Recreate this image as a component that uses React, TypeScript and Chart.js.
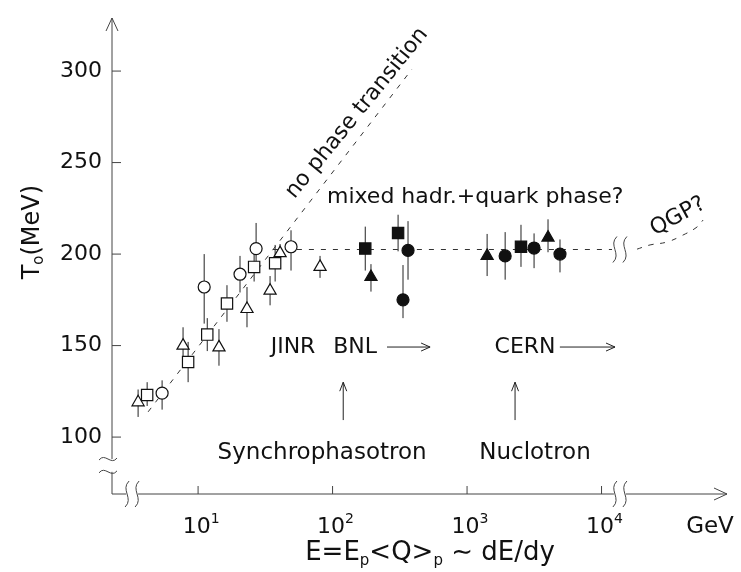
import React, { useEffect, useRef } from "react";
import { Chart, registerables } from "chart.js";

Chart.register(...registerables);

const FONT = '"DejaVu Sans", "Liberation Sans", sans-serif';

// ---- axes ----
const X_MIN = 2.29;
const X_MAX = 85700;
const Y_MIN = 68.9;
const Y_MAX = 329;
const Y_TICKS = [100, 150, 200, 250, 300];
const X_TICKS = [10, 100, 1000, 10000];
const X_TICK_EXP = ["1", "2", "3", "4"];

// ---- data (E in GeV, T0 in MeV) ----
const openTriE = [3.58, 7.73, 14.3, 23.1, 34.3, 40.7, 80.7];
const openTriT = [119, 150, 149, 170, 180, 200.5, 193];
const openTriUp = [7, 10, 10, 12, 8, 5, 6];
const openTriDn = [8, 12, 10, 10, 8, 4, 6];

const openSqE = [4.18, 8.43, 11.7, 16.4, 26.1, 37.4];
const openSqT = [123, 141, 156, 173, 193, 195];
const openSqUp = [7, 11, 9, 10, 8, 10];
const openSqDn = [6, 11, 9, 10, 8, 10];

const openCirE = [5.4, 11.1, 20.5, 27, 49.1];
const openCirT = [124, 182, 189, 203, 204];
const openCirUp = [7, 18, 10, 14, 9];
const openCirDn = [9, 20, 10, 10, 13];

const fullSqE = [175, 307, 2518];
const fullSqT = [203, 211.5, 204];
const fullSqUp = [12, 10, 12];
const fullSqDn = [12, 10, 11];

const fullTriE = [193, 1410, 4000];
const fullTriT = [187.5, 199, 209];
const fullTriUp = [7, 12, 10];
const fullTriDn = [8, 11, 8];

const fullCirE = [364, 334, 1920, 3150, 4910];
const fullCirT = [202, 175, 199, 203.3, 200];
const fullCirUp = [16, 19, 13, 8, 8];
const fullCirDn = [16, 10, 13, 11, 10];

// ---- guide lines ----
const noTransE = [4.25, 389];
const noTransT = [113.8, 301];
const mixedE = [36, 11970];
const mixedT = [202.5, 202.5];
const qgpE = [18370, 22960, 30700, 40360, 51300, 56900];
const qgpT = [202.7, 205, 206.6, 210.4, 214.8, 218.6];

// break positions (data coords)
const AXIS_BREAK_LEFT_E = 3.23;
const AXIS_BREAK_RIGHT_E = 13700;
const LINE_BREAK_T = 202.5;
const Y_BREAK_T = [88, 81];

function mk(xs: number[], ys: number[]) {
  return xs.map((x, i) => ({ x, y: ys[i] }));
}

function markerDs(label: string, xs: number[], ys: number[], up: number[], dn: number[], style: string, filled: boolean, r: number) {
  return {
    type: "scatter",
    label,
    data: mk(xs, ys),
    errUp: up,
    errDn: dn,
    pointStyle: style,
    pointRadius: r,
    pointHoverRadius: r,
    pointBackgroundColor: filled ? "#111" : "#fff",
    pointBorderColor: "#111",
    pointBorderWidth: 1.2,
    showLine: false,
  };
}

function lineDs(label: string, xs: number[], ys: number[], tension: number) {
  return {
    type: "line",
    label,
    data: mk(xs, ys),
    borderColor: "#333",
    borderWidth: 1,
    borderDash: [5, 7],
    pointRadius: 0,
    tension,
    fill: false,
  };
}

function drawSeq(ctx: CanvasRenderingContext2D, parts: { t: string; s: number; dy: number }[], cx: number, cy: number, rot: number) {
  ctx.save();
  ctx.translate(cx, cy);
  ctx.rotate(rot);
  let total = 0;
  const widths = parts.map((p) => {
    ctx.font = `${p.s}px ${FONT}`;
    const w = ctx.measureText(p.t).width;
    total += w;
    return w;
  });
  let x = -total / 2;
  ctx.textBaseline = "middle";
  ctx.textAlign = "left";
  parts.forEach((p, i) => {
    ctx.font = `${p.s}px ${FONT}`;
    ctx.fillText(p.t, x, p.dy);
    x += widths[i];
  });
  ctx.restore();
}

function text(ctx: CanvasRenderingContext2D, t: string, x: number, y: number, size: number, rot = 0, align: CanvasTextAlign = "center") {
  ctx.save();
  ctx.translate(x, y);
  ctx.rotate(rot);
  ctx.font = `${size}px ${FONT}`;
  ctx.textAlign = align;
  ctx.textBaseline = "middle";
  ctx.fillText(t, 0, 0);
  ctx.restore();
}

function vSquiggle(ctx: CanvasRenderingContext2D, cx: number, cy: number, h: number) {
  ctx.beginPath();
  ctx.moveTo(cx + 2, cy - h / 2);
  ctx.bezierCurveTo(cx - 7, cy - h / 6, cx + 7, cy + h / 6, cx - 2, cy + h / 2);
  ctx.stroke();
}

function hSquiggle(ctx: CanvasRenderingContext2D, cx: number, cy: number, w: number) {
  ctx.beginPath();
  ctx.moveTo(cx - w / 2, cy + 1);
  ctx.bezierCurveTo(cx - w / 6, cy - 7, cx + w / 6, cy + 7, cx + w / 2, cy - 1);
  ctx.stroke();
}

const overlay = {
  id: "overlay",
  beforeDatasetsDraw(chart: any) {
    const { ctx, chartArea } = chart;
    const xs = chart.scales.x;
    const ys = chart.scales.y;
    ctx.save();
    ctx.strokeStyle = "#444";
    ctx.lineWidth = 1;
    const x0 = chartArea.left;
    const yb = chartArea.bottom;
    // y axis with break
    const yb1 = ys.getPixelForValue(Y_BREAK_T[0]);
    const yb2 = ys.getPixelForValue(Y_BREAK_T[1]);
    ctx.beginPath();
    ctx.moveTo(x0, chartArea.top);
    ctx.lineTo(x0, yb1);
    ctx.moveTo(x0, yb2);
    ctx.lineTo(x0, yb);
    ctx.stroke();
    hSquiggle(ctx, x0 - 4, yb1, 18);
    hSquiggle(ctx, x0 - 4, yb2, 18);
    // arrow top
    ctx.beginPath();
    ctx.moveTo(x0 - 6, chartArea.top + 13);
    ctx.lineTo(x0, chartArea.top);
    ctx.lineTo(x0 + 6, chartArea.top + 13);
    ctx.stroke();
    // x axis with breaks
    const bl = xs.getPixelForValue(AXIS_BREAK_LEFT_E);
    const br = xs.getPixelForValue(AXIS_BREAK_RIGHT_E);
    ctx.beginPath();
    ctx.moveTo(x0, yb);
    ctx.lineTo(bl - 6, yb);
    ctx.moveTo(bl + 6, yb);
    ctx.lineTo(br - 6, yb);
    ctx.moveTo(br + 6, yb);
    ctx.lineTo(chartArea.right, yb);
    ctx.stroke();
    [bl - 5, bl + 5, br - 5, br + 5].forEach((cx) => vSquiggle(ctx, cx, yb, 26));
    ctx.beginPath();
    ctx.moveTo(chartArea.right - 13, yb - 6);
    ctx.lineTo(chartArea.right, yb);
    ctx.lineTo(chartArea.right - 13, yb + 6);
    ctx.stroke();
    // break on the horizontal guide line
    const ly = ys.getPixelForValue(LINE_BREAK_T);
    [br - 5, br + 5].forEach((cx) => vSquiggle(ctx, cx, ly, 26));
    // y ticks
    Y_TICKS.forEach((v) => {
      const py = ys.getPixelForValue(v);
      ctx.beginPath();
      ctx.moveTo(x0, py);
      ctx.lineTo(x0 + 9, py);
      ctx.stroke();
    });
    // x ticks
    X_TICKS.forEach((v) => {
      const px = xs.getPixelForValue(v);
      ctx.beginPath();
      ctx.moveTo(px, yb);
      ctx.lineTo(px, yb - 8);
      ctx.stroke();
    });
    // error bars
    ctx.strokeStyle = "#222";
    chart.data.datasets.forEach((ds: any) => {
      if (!ds.errUp) return;
      ds.data.forEach((p: any, i: number) => {
        const px = xs.getPixelForValue(p.x);
        ctx.beginPath();
        ctx.moveTo(px, ys.getPixelForValue(p.y + ds.errUp[i]));
        ctx.lineTo(px, ys.getPixelForValue(p.y - ds.errDn[i]));
        ctx.stroke();
      });
    });
    ctx.restore();
  },
  afterDraw(chart: any) {
    const { ctx, chartArea } = chart;
    const xs = chart.scales.x;
    const ys = chart.scales.y;
    const X = (v: number) => xs.getPixelForValue(v);
    const Y = (v: number) => ys.getPixelForValue(v);
    ctx.save();
    ctx.fillStyle = "#111";
    ctx.strokeStyle = "#222";
    ctx.lineWidth = 1;
    const x0 = chartArea.left;
    const yb = chartArea.bottom;
    // y tick labels
    Y_TICKS.forEach((v) => text(ctx, String(v), x0 - 10, Y(v), 22, 0, "right"));
    // x tick labels
    X_TICKS.forEach((v, i) => {
      drawSeq(ctx, [
        { t: "10", s: 22, dy: 0 },
        { t: X_TICK_EXP[i], s: 14, dy: -8 },
      ], X(v) + 3, yb + 33, 0);
    });
    text(ctx, "GeV", chartArea.right - 17, yb + 33, 23);
    // axis titles
    drawSeq(ctx, [
      { t: "E=E", s: 26, dy: 0 },
      { t: "p", s: 15, dy: 8 },
      { t: "<Q>", s: 26, dy: 0 },
      { t: "p", s: 15, dy: 8 },
      { t: " \u223C dE/dy", s: 26, dy: 0 },
    ], 430, yb + 59, 0);
    drawSeq(ctx, [
      { t: "T", s: 24, dy: 0 },
      { t: "o", s: 15, dy: 6 },
      { t: "(MeV)", s: 24, dy: 0 },
    ], 33, Y(212), -Math.PI / 2);
    // annotations
    text(ctx, "no phase transition", X(152), Y(277), 22, -0.89);
    text(ctx, "mixed hadr.+quark phase?", X(1150), Y(231), 22);
    text(ctx, "QGP?", X(37000), Y(220.5), 22, -0.5);
    text(ctx, "JINR", X(50.8), Y(149.2), 22);
    text(ctx, "BNL", X(147), Y(149.2), 22);
    text(ctx, "CERN", X(2700), Y(149.2), 22);
    text(ctx, "Synchrophasotron", X(83.6), Y(91.3), 23);
    text(ctx, "Nuclotron", X(3200), Y(91.3), 23);
    // horizontal arrows
    const hArrow = (e1: number, e2: number, t: number) => {
      const a = X(e1), b = X(e2), y = Y(t);
      ctx.beginPath();
      ctx.moveTo(a, y);
      ctx.lineTo(b, y);
      ctx.moveTo(b - 9, y - 4);
      ctx.lineTo(b, y);
      ctx.lineTo(b - 9, y + 4);
      ctx.stroke();
    };
    hArrow(254, 531, 149.2);
    hArrow(4900, 12600, 149.2);
    // up arrows
    const vArrow = (e: number, t1: number, t2: number) => {
      const x = X(e), a = Y(t1), b = Y(t2);
      ctx.beginPath();
      ctx.moveTo(x, a);
      ctx.lineTo(x, b);
      ctx.moveTo(x - 3.5, b + 9);
      ctx.lineTo(x, b);
      ctx.lineTo(x + 3.5, b + 9);
      ctx.stroke();
    };
    vArrow(120, 109.3, 130);
    vArrow(2275, 109.3, 130);
    ctx.restore();
  },
};

export default function App() {
  const ref = useRef<HTMLCanvasElement>(null);
  useEffect(() => {
    const canvas = ref.current!;
    const chart = new Chart(canvas, {
      type: "scatter",
      data: {
        datasets: [
          markerDs("full circles", fullCirE, fullCirT, fullCirUp, fullCirDn, "circle", true, 6),
          markerDs("full squares", fullSqE, fullSqT, fullSqUp, fullSqDn, "rect", true, 8),
          markerDs("full triangles", fullTriE, fullTriT, fullTriUp, fullTriDn, "triangle", true, 7),
          markerDs("open circles", openCirE, openCirT, openCirUp, openCirDn, "circle", false, 6),
          markerDs("open squares", openSqE, openSqT, openSqUp, openSqDn, "rect", false, 8),
          markerDs("open triangles", openTriE, openTriT, openTriUp, openTriDn, "triangle", false, 7),
          lineDs("no phase transition", noTransE, noTransT, 0),
          lineDs("mixed phase", mixedE, mixedT, 0),
          lineDs("QGP", qgpE, qgpT, 0.4),
        ] as any,
      },
      options: {
        animation: false,
        responsive: false,
        maintainAspectRatio: false,
        layout: { padding: { left: 112, right: 14, top: 18, bottom: 78 } },
        plugins: { legend: { display: false }, tooltip: { enabled: false } },
        scales: {
          x: { type: "logarithmic", min: X_MIN, max: X_MAX, display: false },
          y: { type: "linear", min: Y_MIN, max: Y_MAX, display: false },
        },
      } as any,
      plugins: [overlay],
    });
    return () => chart.destroy();
  }, []);
  return (
    <div style={{ position: "fixed", left: 0, top: 0, width: 741, height: 572, background: "#fff" }}>
      <canvas ref={ref} width={741} height={572} />
    </div>
  );
}
